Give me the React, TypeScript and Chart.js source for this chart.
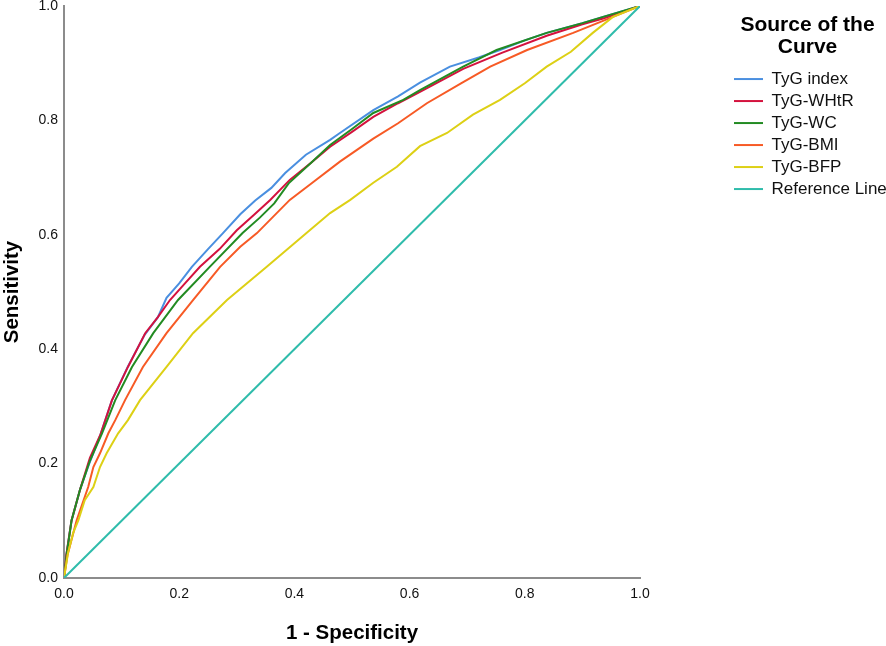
import { useEffect, useRef } from "react"
import { Chart, registerables } from "chart.js"

Chart.register(...registerables)

// ROC curves: 1 - specificity (x) vs sensitivity (y)
const tygIndexFpr = [0, 0.004, 0.013, 0.028, 0.042, 0.063, 0.083, 0.111, 0.14, 0.163, 0.178, 0.2, 0.222, 0.25, 0.276, 0.306, 0.332, 0.36, 0.384, 0.42, 0.462, 0.479, 0.537, 0.58, 0.618, 0.67, 0.72, 0.757, 0.8, 0.838, 0.9, 0.936, 1]
const tygIndexTpr = [0, 0.04, 0.1, 0.155, 0.195, 0.25, 0.31, 0.37, 0.425, 0.456, 0.49, 0.515, 0.544, 0.575, 0.603, 0.636, 0.66, 0.682, 0.708, 0.74, 0.766, 0.778, 0.818, 0.842, 0.866, 0.894, 0.91, 0.923, 0.94, 0.953, 0.97, 0.981, 1]

const whtrFpr = [0, 0.004, 0.013, 0.028, 0.045, 0.063, 0.083, 0.111, 0.141, 0.163, 0.184, 0.21, 0.236, 0.27, 0.3, 0.33, 0.358, 0.392, 0.43, 0.462, 0.5, 0.537, 0.58, 0.618, 0.693, 0.76, 0.838, 0.9, 0.936, 1]
const whtrTpr = [0, 0.04, 0.1, 0.155, 0.21, 0.25, 0.31, 0.369, 0.428, 0.456, 0.486, 0.515, 0.544, 0.575, 0.608, 0.635, 0.661, 0.696, 0.727, 0.754, 0.78, 0.806, 0.83, 0.85, 0.89, 0.918, 0.948, 0.968, 0.978, 1]

const wcFpr = [0, 0.005, 0.013, 0.028, 0.045, 0.066, 0.089, 0.118, 0.155, 0.198, 0.253, 0.31, 0.34, 0.365, 0.39, 0.43, 0.462, 0.5, 0.537, 0.589, 0.618, 0.693, 0.751, 0.838, 0.9, 0.936, 1]
const wcTpr = [0, 0.044, 0.1, 0.155, 0.205, 0.253, 0.311, 0.369, 0.428, 0.486, 0.544, 0.603, 0.63, 0.655, 0.69, 0.727, 0.757, 0.785, 0.813, 0.836, 0.853, 0.894, 0.923, 0.953, 0.97, 0.981, 1]

const bmiFpr = [0, 0.006, 0.022, 0.042, 0.051, 0.0625, 0.077, 0.089, 0.106, 0.137, 0.178, 0.224, 0.271, 0.306, 0.335, 0.392, 0.43, 0.479, 0.537, 0.58, 0.63, 0.69, 0.74, 0.804, 0.884, 0.953, 1]
const bmiTpr = [0, 0.04, 0.101, 0.159, 0.194, 0.218, 0.253, 0.276, 0.311, 0.369, 0.428, 0.486, 0.544, 0.579, 0.603, 0.661, 0.69, 0.728, 0.768, 0.795, 0.83, 0.865, 0.894, 0.923, 0.953, 0.981, 1]

const bfpFpr = [0, 0.007, 0.016, 0.025, 0.036, 0.051, 0.0625, 0.074, 0.094, 0.111, 0.132, 0.178, 0.224, 0.283, 0.352, 0.421, 0.462, 0.497, 0.537, 0.578, 0.618, 0.665, 0.71, 0.757, 0.8, 0.838, 0.88, 0.918, 0.953, 1]
const bfpTpr = [0, 0.044, 0.079, 0.101, 0.136, 0.159, 0.194, 0.218, 0.253, 0.276, 0.311, 0.369, 0.428, 0.486, 0.544, 0.603, 0.638, 0.661, 0.691, 0.719, 0.755, 0.778, 0.81, 0.836, 0.865, 0.894, 0.92, 0.953, 0.981, 1]

const refFpr = [0, 1]
const refTpr = [0, 1]

const toPoints = (xs: number[], ys: number[]) => xs.map((x, i) => ({ x, y: ys[i] }))

export default function App() {
  const chartRef = useRef<HTMLCanvasElement>(null)
  const chartInstance = useRef<Chart | null>(null)

  useEffect(() => {
    document.body.style.margin = "0"
    if (!chartRef.current) return
    if (chartInstance.current) chartInstance.current.destroy()
    const ctx = chartRef.current.getContext("2d")
    if (!ctx) return

    Chart.defaults.font.family = "'Liberation Sans', Arial, sans-serif"

    const line = (label: string, xs: number[], ys: number[], color: string, order: number) => ({
      label,
      data: toPoints(xs, ys),
      borderColor: color,
      backgroundColor: color,
      borderWidth: 2,
      pointRadius: 0,
      tension: 0,
      fill: false,
      order,
    })

    chartInstance.current = new Chart(ctx, {
      type: "line",
      data: {
        datasets: [
          line("TyG index", tygIndexFpr, tygIndexTpr, "#4a8fe0", 6),
          line("TyG-WHtR", whtrFpr, whtrTpr, "#d4123e", 5),
          line("TyG-WC", wcFpr, wcTpr, "#228b22", 4),
          line("TyG-BMI", bmiFpr, bmiTpr, "#f75a25", 3),
          line("TyG-BFP", bfpFpr, bfpTpr, "#ddd015", 2),
          line("Reference Line", refFpr, refTpr, "#2fbcab", 1),
        ],
      },
      options: {
        responsive: false,
        animation: false,
        layout: { padding: 0 },
        plugins: {
          tooltip: { enabled: false },
          legend: {
            position: "right",
            align: "start",
            maxWidth: 157,
            title: {
              display: true,
              text: ["Source of the", "Curve"],
              color: "#000",
              font: { size: 21, weight: "bold", lineHeight: 1.05 },
              padding: { top: 14.5, bottom: 29 },
            },
            labels: {
              usePointStyle: true,
              pointStyle: "line",
              pointStyleWidth: 29,
              color: "#111",
              font: { size: 17 },
              padding: 5,
              sort: (a: any, b: any) => a.datasetIndex - b.datasetIndex,
            },
          },
        },
        scales: {
          x: {
            type: "linear",
            min: 0,
            max: 1,
            grid: { display: false, tickLength: 0 },
            border: { color: "#8c8c8c", width: 2 },
            ticks: {
              stepSize: 0.2,
              color: "#111",
              font: { size: 14 },
              padding: 8,
              callback: (v: any) => Number(v).toFixed(1),
            },
            title: {
              display: true,
              text: "1 - Specificity",
              color: "#000",
              font: { size: 20.5, weight: "bold" },
              padding: { top: 0, bottom: 0 },
            },
            afterFit: (scale: any) => {
              scale.height = 68
            },
          },
          y: {
            type: "linear",
            min: 0,
            max: 1,
            grid: { display: false, tickLength: 0 },
            border: { color: "#8c8c8c", width: 2 },
            ticks: {
              stepSize: 0.2,
              color: "#111",
              font: { size: 14 },
              padding: 6,
              callback: (v: any) => Number(v).toFixed(1),
            },
            title: {
              display: true,
              text: "Sensitivity",
              color: "#000",
              font: { size: 20.5, weight: "bold" },
              padding: { top: 0, bottom: 0 },
            },
            afterFit: (scale: any) => {
              scale.width = 64
              scale.paddingTop = 6
              scale.paddingBottom = 0
            },
          },
          // empty axis that keeps the gap between the plot and the legend
          gap: {
            type: "linear",
            position: "right",
            display: true,
            grid: { display: false },
            border: { display: false },
            ticks: { display: false },
            afterFit: (scale: any) => {
              scale.width = 89
            },
          },
        },
      },
    })

    return () => {
      if (chartInstance.current) {
        chartInstance.current.destroy()
        chartInstance.current = null
      }
    }
  }, [])

  return (
    <div style={{ width: 886, height: 646, background: "#fff" }}>
      <canvas ref={chartRef} width={886} height={646}></canvas>
    </div>
  )
}
